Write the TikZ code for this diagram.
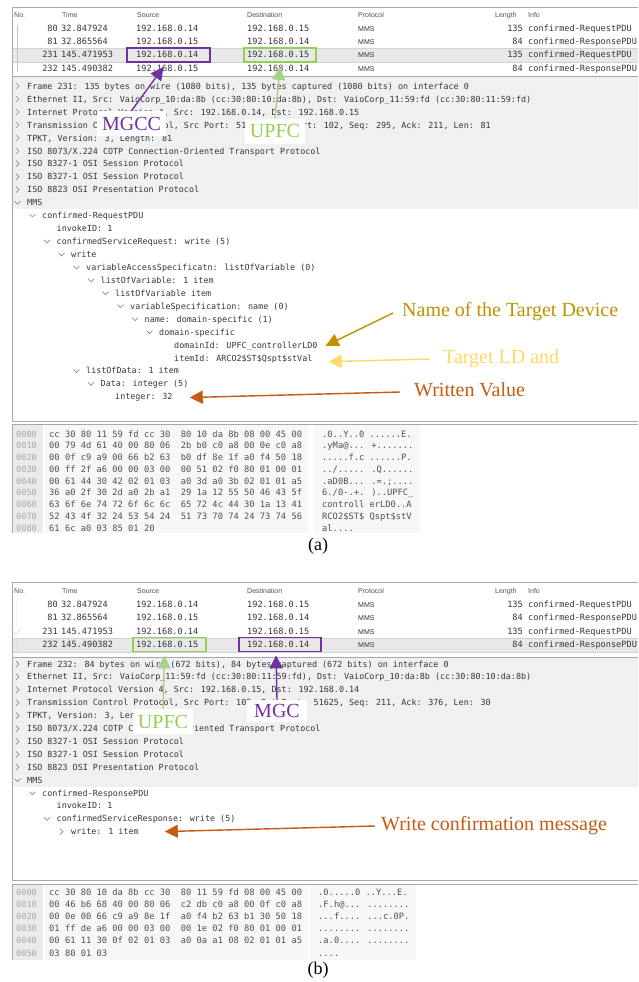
\documentclass[tikz,border=0pt]{standalone}
\usepackage{fontspec}
\setmainfont{Liberation Serif}
\newfontfamily\wsmono{DejaVu Sans Mono}
\newfontfamily\wssans{Liberation Sans}
\usetikzlibrary{arrows.meta, calc}

\definecolor{mgccpurple}{HTML}{7030A0}
\definecolor{upfcgreen}{HTML}{92D050}
\definecolor{upfcarrow}{HTML}{A9D18E}
\definecolor{devgold}{HTML}{BF9000}
\definecolor{ldgold}{HTML}{FFD966}
\definecolor{valorange}{HTML}{C55A11}
\definecolor{selgray}{HTML}{E8E8E8}
\definecolor{rowline}{HTML}{D2D2D2}
\definecolor{panegray}{HTML}{F0F0F0}
\definecolor{edgegray}{HTML}{A8A8A8}
\definecolor{treeline}{HTML}{C4C4C4}
\definecolor{offbg}{HTML}{EBEBEB}
\definecolor{hexbg}{HTML}{F7F7F7}
\definecolor{txtdark}{HTML}{363636}
\definecolor{hexgray}{HTML}{505050}
\definecolor{offgray}{HTML}{A8A8A8}
\definecolor{headgray}{HTML}{505050}
\definecolor{chevgray}{HTML}{8C8C8C}

\tikzset{
  field/.style={font=\wsmono\fontsize{8.6}{10}\selectfont, text=txtdark, inner sep=0pt, anchor=base west},
  detail/.style={field, font=\wsmono\fontsize{8.4}{10}\selectfont},
  hexcell/.style={field, text=hexgray, font=\wsmono\fontsize{8.75}{10}\selectfont},
  hexoff/.style={field, text=offgray},
  colhead/.style={font=\wssans\fontsize{7}{8}\selectfont, text=headgray, inner sep=0pt, anchor=base west},
  proto/.style={font=\wssans\fontsize{7}{8}\selectfont, text=txtdark, inner sep=0pt, anchor=base west},
  chev/.style={draw=chevgray, line width=0.7pt},
  shut/.pic={\draw[chev] (-1.5,-3) -- (1.5,0) -- (-1.5,3);},
  unfold/.pic={\draw[chev] (-3,-1.5) -- (0,1.5) -- (3,-1.5);},
  paneedge/.style={draw=edgegray, line width=0.6pt},
  hlbox/.style={draw, line width=1.8pt, inner sep=0pt, minimum height=14pt},
  tag/.style={fill=white, inner xsep=5pt, minimum height=25pt, font=\fontsize{20}{22}\selectfont},
  note/.style={font=\fontsize{20}{22}\selectfont, inner sep=0pt, anchor=west},
  tagarrow/.style={line width=1.4pt, -{Triangle[length=13pt,width=13pt]}},
  subcap/.style={font=\fontsize{18}{20}\selectfont, inner sep=0pt}
}

\begin{document}
\begin{tikzpicture}[x=1pt, y=-1pt]
\useasboundingbox (0,0) rectangle (638,982);

% ---- panel (a): packet list, tree and bytes panes
\fill[selgray] (12,48) rectangle (638,62);
\draw[rowline] (12,48) -- (638,48) (12,62) -- (638,62);
\draw[paneedge] (638,7) -- (12,7) -- (12,76) -- (638,76);
\draw[treeline] (17,25) -- (17,72);
\fill[panegray] (12,77) rectangle (638,209);
\draw[paneedge] (12,76) -- (12,421) -- (638,421);
\fill[offbg] (12,425) rectangle (43,533);
\fill[hexbg] (45,425) rectangle (308,533);
\fill[hexbg] (314,425) rectangle (420,533);
\draw[paneedge] (638,424) -- (12,424) -- (12,533);

% ---- panel (b)
\fill[selgray] (12,638) rectangle (638,652);
\draw[rowline] (12,638) -- (638,638) (12,652) -- (638,652);
\draw[paneedge] (638,582) -- (12,582) -- (12,657) -- (638,657);
\draw[treeline] (17,598) -- (17,628) (13,631) -- (16,635) -- (21,628) (17,639) -- (17,651);
\fill[panegray] (12,658) rectangle (638,787);
\draw[paneedge] (12,657) -- (12,880) -- (638,880);
\fill[offbg] (12,885) rectangle (43,960);
\fill[hexbg] (45,885) rectangle (308,960);
\fill[hexbg] (310,885) rectangle (416,960);
\draw[paneedge] (638,884) -- (12,884) -- (12,960);

% column headers
\foreach \pn/\yb in {a/17.5, b/593.5} {
  \node[colhead] (hno\pn) at (14,\yb) {No.};
  \node[colhead] (htm\pn) at (62,\yb) {Time};
  \node[colhead] (hsrc\pn) at (137,\yb) {Source};
  \node[colhead] (hdst\pn) at (247,\yb) {Destination};
  \node[colhead] (hpr\pn) at (358,\yb) {Protocol};
  \node[colhead] (hln\pn) at (495,\yb) {Length};
  \node[colhead] (hif\pn) at (528,\yb) {Info};
}

% packet rows, same four in both captures
\foreach \no/\tm/\src/\dst/\len/\info [count=\k] in {
    80/32.847924/192.168.0.14/192.168.0.15/135/confirmed-RequestPDU,
    81/32.865564/192.168.0.15/192.168.0.14/84/confirmed-ResponsePDU,
    231/145.471953/192.168.0.14/192.168.0.15/135/confirmed-RequestPDU,
    232/145.490382/192.168.0.15/192.168.0.14/84/confirmed-ResponsePDU} {
  \foreach \pn/\yo/\dy in {a/19/13, b/594/13.4} {
    \pgfmathsetmacro{\yb}{\yo+\dy*\k}
    \node[field, anchor=base east] (no\pn\k) at (58,\yb) {\no};
    \node[field] (tm\pn\k) at (61,\yb) {\tm};
    \node[field] (src\pn\k) at (136,\yb) {\src};
    \node[field] (dst\pn\k) at (247,\yb) {\dst};
    \node[proto] (pr\pn\k) at (358,\yb) {MMS};
    \node[field, anchor=base east] (ln\pn\k) at (523,\yb) {\len};
    \node[field] (if\pn\k) at (528,\yb) {\info};
  }
}

% packet details (a)
\node[detail] (fa1) at (27,89) {Frame 231: 135 bytes on wire (1080 bits), 135 bytes captured (1080 bits) on interface 0};
\node[detail] (fa2) at (27,102) {Ethernet II, Src: VaioCorp\_10:da:8b (cc:30:80:10:da:8b), Dst: VaioCorp\_11:59:fd (cc:30:80:11:59:fd)};
\node[detail] (fa3) at (27,115) {Internet Protocol Version 4, Src: 192.168.0.14, Dst: 192.168.0.15};
\node[detail] (fa4) at (27,128) {Transmission Control Protocol, Src Port: 51625, Dst Port: 102, Seq: 295, Ack: 211, Len: 81};
\node[detail] (fa5) at (27,141) {TPKT, Version: 3, Length: 81};
\node[detail] (fa6) at (27,154) {ISO 8073/X.224 COTP Connection-Oriented Transport Protocol};
\node[detail] (fa7) at (27,166.7) {ISO 8327-1 OSI Session Protocol};
\node[detail] (fa8) at (27,179.7) {ISO 8327-1 OSI Session Protocol};
\node[detail] (fa9) at (27,192.6) {ISO 8823 OSI Presentation Protocol};
\node[detail] (fa10) at (27,205.6) {MMS};
\node[detail] (fa11) at (42,218.5) {confirmed-RequestPDU};
\node[detail] (fa12) at (56.5,231.5) {invokeID: 1};
\node[detail] (fa13) at (56.5,244.4) {confirmedServiceRequest: write (5)};
\node[detail] (fa14) at (71,257.4) {write};
\node[detail] (fa15) at (86,270.3) {variableAccessSpecificatn: listOfVariable (0)};
\node[detail] (fa16) at (100.5,283.3) {listOfVariable: 1 item};
\node[detail] (fa17) at (115,296.2) {listOfVariable item};
\node[detail] (fa18) at (130,309.2) {variableSpecification: name (0)};
\node[detail] (fa19) at (144.5,322.1) {name: domain-specific (1)};
\node[detail] (fa20) at (159,335.1) {domain-specific};
\node[detail] (fa21) at (174,348) {domainId: UPFC\_controllerLD0};
\node[detail] (fa22) at (174,361) {itemId: ARCO2\$ST\$Qspt\$stVal};
\node[detail] (fa23) at (86,373.9) {listOfData: 1 item};
\node[detail] (fa24) at (100.5,386.9) {Data: integer (5)};
\node[detail] (fa25) at (115,399.8) {integer: 32};
\foreach \yb in {89,102,115,128,141,154,166.7,179.7,192.6}
  \pic at (17.5,\yb-3) {shut};
\foreach \cx/\yb in {17.5/205.6, 32.5/218.5, 47/244.4, 61.5/257.4, 76.5/270.3, 91/283.3,
    105.5/296.2, 120.5/309.2, 135/322.1, 149.5/335.1, 76.5/373.9, 91/386.9}
  \pic at (\cx,\yb-3) {unfold};

% packet bytes (a)
\node[hexoff] (oa0) at (16,437) {0000};
\node[hexoff] (oa1) at (16,448.8) {0010};
\node[hexoff] (oa2) at (16,460.5) {0020};
\node[hexoff] (oa3) at (16,472.3) {0030};
\node[hexoff] (oa4) at (16,484) {0040};
\node[hexoff] (oa5) at (16,495.8) {0050};
\node[hexoff] (oa6) at (16,507.5) {0060};
\node[hexoff] (oa7) at (16,519.3) {0070};
\node[hexoff] (oa8) at (16,531) {0080};
\node[hexcell] (ha0) at (49,437) {cc 30 80 11 59 fd cc 30~~80 10 da 8b 08 00 45 00};
\node[hexcell] (ha1) at (49,448.8) {00 79 4d 61 40 00 80 06~~2b b0 c0 a8 00 0e c0 a8};
\node[hexcell] (ha2) at (49,460.5) {00 0f c9 a9 00 66 b2 63~~b0 df 8e 1f a0 f4 50 18};
\node[hexcell] (ha3) at (49,472.3) {00 ff 2f a6 00 00 03 00~~00 51 02 f0 80 01 00 01};
\node[hexcell] (ha4) at (49,484) {00 61 44 30 42 02 01 03~~a0 3d a0 3b 02 01 01 a5};
\node[hexcell] (ha5) at (49,495.8) {36 a0 2f 30 2d a0 2b a1~~29 1a 12 55 50 46 43 5f};
\node[hexcell] (ha6) at (49,507.5) {63 6f 6e 74 72 6f 6c 6c~~65 72 4c 44 30 1a 13 41};
\node[hexcell] (ha7) at (49,519.3) {52 43 4f 32 24 53 54 24~~51 73 70 74 24 73 74 56};
\node[hexcell] (ha8) at (49,531) {61 6c a0 03 85 01 20};
\node[hexcell] (aa0) at (322,437) {.0..Y..0 ......E.};
\node[hexcell] (aa1) at (322,448.8) {.yMa@... +.......};
\node[hexcell] (aa2) at (322,460.5) {.....f.c ......P.};
\node[hexcell] (aa3) at (322,472.3) {../..... .Q......};
\node[hexcell] (aa4) at (322,484) {.aD0B... .=.;....};
\node[hexcell] (aa5) at (322,495.8) {6./0-.+. )..UPFC\_};
\node[hexcell] (aa6) at (322,507.5) {controll erLD0..A};
\node[hexcell] (aa7) at (322,519.3) {RCO2\$ST\$ Qspt\$stV};
\node[hexcell] (aa8) at (322,531) {al....};

% packet details (b)
\node[detail] (fb1) at (27,667) {Frame 232: 84 bytes on wire (672 bits), 84 bytes captured (672 bits) on interface 0};
\node[detail] (fb2) at (27,679.9) {Ethernet II, Src: VaioCorp\_11:59:fd (cc:30:80:11:59:fd), Dst: VaioCorp\_10:da:8b (cc:30:80:10:da:8b)};
\node[detail] (fb3) at (27,692.8) {Internet Protocol Version 4, Src: 192.168.0.15, Dst: 192.168.0.14};
\node[detail] (fb4) at (27,705.7) {Transmission Control Protocol, Src Port: 102, Dst Port: 51625, Seq: 211, Ack: 376, Len: 30};
\node[detail] (fb5) at (27,718.6) {TPKT, Version: 3, Length: 30};
\node[detail] (fb6) at (27,731.5) {ISO 8073/X.224 COTP Connection-Oriented Transport Protocol};
\node[detail] (fb7) at (27,744.4) {ISO 8327-1 OSI Session Protocol};
\node[detail] (fb8) at (27,757.3) {ISO 8327-1 OSI Session Protocol};
\node[detail] (fb9) at (27,770.2) {ISO 8823 OSI Presentation Protocol};
\node[detail] (fb10) at (27,783.1) {MMS};
\node[detail] (fb11) at (42,796) {confirmed-ResponsePDU};
\node[detail] (fb12) at (56.5,808.9) {invokeID: 1};
\node[detail] (fb13) at (56.5,821.8) {confirmedServiceResponse: write (5)};
\node[detail] (fb14) at (71,834.7) {write: 1 item};
\foreach \yb in {667,679.9,692.8,705.7,718.6,731.5,744.4,757.3,770.2}
  \pic at (17.5,\yb-3) {shut};
\foreach \cx/\yb in {17.5/783.1, 32.5/796, 47/821.8}
  \pic at (\cx,\yb-3) {unfold};
\pic at (61.5,831.7) {shut};

% packet bytes (b)
\node[hexoff] (ob0) at (16,895) {0000};
\node[hexoff] (ob1) at (16,907.2) {0010};
\node[hexoff] (ob2) at (16,919.4) {0020};
\node[hexoff] (ob3) at (16,931.6) {0030};
\node[hexoff] (ob4) at (16,943.8) {0040};
\node[hexoff] (ob5) at (16,956) {0050};
\node[hexcell] (hb0) at (49,895) {cc 30 80 10 da 8b cc 30~~80 11 59 fd 08 00 45 00};
\node[hexcell] (hb1) at (49,907.2) {00 46 b6 68 40 00 80 06~~c2 db c0 a8 00 0f c0 a8};
\node[hexcell] (hb2) at (49,919.4) {00 0e 00 66 c9 a9 8e 1f~~a0 f4 b2 63 b1 30 50 18};
\node[hexcell] (hb3) at (49,931.6) {01 ff de a6 00 00 03 00~~00 1e 02 f0 80 01 00 01};
\node[hexcell] (hb4) at (49,943.8) {00 61 11 30 0f 02 01 03~~a0 0a a1 08 02 01 01 a5};
\node[hexcell] (hb5) at (49,956) {03 80 01 03};
\node[hexcell] (ab0) at (318,895) {.0.....0 ..Y...E.};
\node[hexcell] (ab1) at (318,907.2) {.F.h@... ........};
\node[hexcell] (ab2) at (318,919.4) {...f.... ...c.0P.};
\node[hexcell] (ab3) at (318,931.6) {........ ........};
\node[hexcell] (ab4) at (318,943.8) {.a.0.... ........};
\node[hexcell] (ab5) at (318,956) {....};

% highlighted addresses
\node[hlbox, draw=mgccpurple, minimum width=83pt] (srcA) at (168.5,55) {};
\node[hlbox, draw=upfcgreen, minimum width=72pt] (dstA) at (280,55) {};
\node[hlbox, draw=upfcgreen, minimum width=73pt] (srcB) at (169.5,644.5) {};
\node[hlbox, draw=mgccpurple, minimum width=82pt] (dstB) at (280,644.5) {};

% device tags
\node[tag, text=mgccpurple] (mgccA) at (131.5,123.5) {MGCC};
\node[tag, text=upfcgreen] (upfcA) at (275,131) {UPFC};
\node[tag, text=upfcgreen] (upfcB) at (163,721.5) {UPFC};
\node[tag, text=mgccpurple, minimum width=60pt, minimum height=22pt] (mgcB) at (277,711) {MGC};
\draw[tagarrow, mgccpurple] (mgccA.north) -- ([xshift=-5pt,yshift=-4pt]srcA.south);
\draw[tagarrow, upfcarrow] (upfcA.north) -- ([yshift=-4pt]dstA.south);
\draw[tagarrow, upfcarrow] (upfcB.north) -- ([xshift=-5pt,yshift=-3pt]srcB.south);
\draw[tagarrow, mgccpurple] (mgcB.north) -- ([xshift=-4pt,yshift=-3pt]dstB.south);

% notes on the MMS fields
\node[note, text=devgold] (devLbl) at (402,312) {Name of the Target Device};
\node[note, text=ldgold] (ldLbl) at (443,359) {Target LD and};
\node[note, text=valorange] (valLbl) at (414,390) {Written Value};
\node[note, text=valorange] (confLbl) at (381,826) {Write confirmation message};
\coordinate (devTip) at ([xshift=8pt]fa21.east);
\coordinate (ldTip) at ([xshift=16pt,yshift=-3pt]fa22.east);
\coordinate (valTip) at ([xshift=17pt]fa25.east);
\coordinate (confTip) at ([xshift=26pt]fb14.east);
\draw[tagarrow, devgold] ([xshift=-9pt,yshift=-1pt]devLbl.west) -- (devTip);
\draw[tagarrow, ldgold] ([xshift=-13pt]ldLbl.west) -- (ldTip);
\draw[tagarrow, valorange] ([xshift=-14pt,yshift=-2pt]valLbl.west) -- (valTip);
\draw[tagarrow, valorange] ([xshift=-6pt]confLbl.west) -- (confTip);

% captions
\node[subcap] (capA) at (318,546) {(a)};
\node[subcap] (capB) at (318,970) {(b)};
\end{tikzpicture}
\end{document}
